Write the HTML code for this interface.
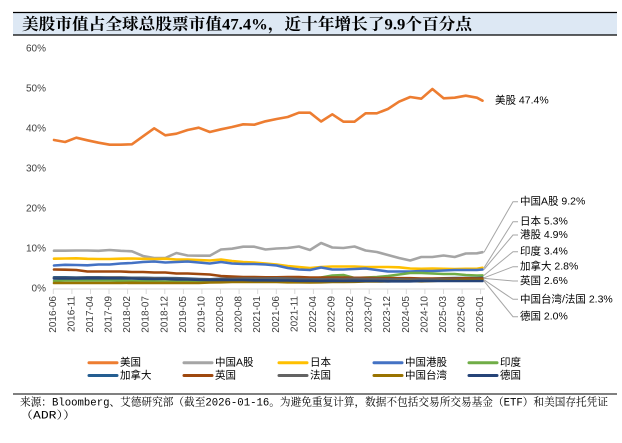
<!DOCTYPE html>
<html><head><meta charset="utf-8">
<style>
html,body{margin:0;padding:0;background:#fff;}
svg{display:block;}
.ax{font-family:"Liberation Sans","Noto Sans CJK SC",sans-serif;font-size:10px;fill:#404040;}
.lb{font-family:"Liberation Sans","Noto Sans CJK SC",sans-serif;font-size:10.5px;fill:#000;}
.s{fill:none;stroke-width:2.6;stroke-linejoin:round;stroke-linecap:round;}
</style></head>
<body>
<svg width="622" height="443" viewBox="0 0 622 443" xmlns="http://www.w3.org/2000/svg">
<!-- title bar -->
<rect x="13" y="12.5" width="604" height="22.5" fill="#dde8f4"/>
<line x1="13" y1="12.5" x2="617" y2="12.5" stroke="#000" stroke-width="1.2"/>
<line x1="13" y1="35" x2="617" y2="35" stroke="#000" stroke-width="1.2"/>
<text x="22" y="29.5" textLength="450" lengthAdjust="spacingAndGlyphs" style="font-family:'Liberation Serif','Noto Serif CJK SC',serif;font-weight:bold;font-size:16px;fill:#000;">美股市值占全球总股票市值47.4%，近十年增长了9.9个百分点</text>

<!-- y axis labels -->
<g class="ax" text-anchor="end" dominant-baseline="central">
<text x="46" y="49">60%</text>
<text x="46" y="89">50%</text>
<text x="46" y="129">40%</text>
<text x="46" y="169">30%</text>
<text x="46" y="209">20%</text>
<text x="46" y="249">10%</text>
<text x="46" y="289">0%</text>
</g>

<!-- x axis -->
<line x1="53" y1="289" x2="485" y2="289" stroke="#d9d9d9" stroke-width="1"/>
<g stroke="#d9d9d9" stroke-width="1">
<line x1="53.3" y1="289" x2="53.3" y2="294"/><line x1="71.9" y1="289" x2="71.9" y2="294"/><line x1="90.5" y1="289" x2="90.5" y2="294"/><line x1="109" y1="289" x2="109" y2="294"/><line x1="127.6" y1="289" x2="127.6" y2="294"/><line x1="146.2" y1="289" x2="146.2" y2="294"/><line x1="164.8" y1="289" x2="164.8" y2="294"/><line x1="183.4" y1="289" x2="183.4" y2="294"/><line x1="201.9" y1="289" x2="201.9" y2="294"/><line x1="220.5" y1="289" x2="220.5" y2="294"/><line x1="239.1" y1="289" x2="239.1" y2="294"/><line x1="257.7" y1="289" x2="257.7" y2="294"/><line x1="276.3" y1="289" x2="276.3" y2="294"/><line x1="294.8" y1="289" x2="294.8" y2="294"/><line x1="313.4" y1="289" x2="313.4" y2="294"/><line x1="332" y1="289" x2="332" y2="294"/><line x1="350.6" y1="289" x2="350.6" y2="294"/><line x1="369.2" y1="289" x2="369.2" y2="294"/><line x1="387.7" y1="289" x2="387.7" y2="294"/><line x1="406.3" y1="289" x2="406.3" y2="294"/><line x1="424.9" y1="289" x2="424.9" y2="294"/><line x1="443.5" y1="289" x2="443.5" y2="294"/><line x1="462.1" y1="289" x2="462.1" y2="294"/><line x1="480.6" y1="289" x2="480.6" y2="294"/>
</g>
<g class="ax" text-anchor="end" dominant-baseline="central">
<text transform="translate(53.3,296) rotate(-90)">2016-06</text>
<text transform="translate(71.9,296) rotate(-90)">2016-11</text>
<text transform="translate(90.5,296) rotate(-90)">2017-04</text>
<text transform="translate(109,296) rotate(-90)">2017-09</text>
<text transform="translate(127.6,296) rotate(-90)">2018-02</text>
<text transform="translate(146.2,296) rotate(-90)">2018-07</text>
<text transform="translate(164.8,296) rotate(-90)">2018-12</text>
<text transform="translate(183.4,296) rotate(-90)">2019-05</text>
<text transform="translate(201.9,296) rotate(-90)">2019-10</text>
<text transform="translate(220.5,296) rotate(-90)">2020-03</text>
<text transform="translate(239.1,296) rotate(-90)">2020-08</text>
<text transform="translate(257.7,296) rotate(-90)">2021-01</text>
<text transform="translate(276.3,296) rotate(-90)">2021-06</text>
<text transform="translate(294.8,296) rotate(-90)">2021-11</text>
<text transform="translate(313.4,296) rotate(-90)">2022-04</text>
<text transform="translate(332,296) rotate(-90)">2022-09</text>
<text transform="translate(350.6,296) rotate(-90)">2023-02</text>
<text transform="translate(369.2,296) rotate(-90)">2023-07</text>
<text transform="translate(387.7,296) rotate(-90)">2023-12</text>
<text transform="translate(406.3,296) rotate(-90)">2024-05</text>
<text transform="translate(424.9,296) rotate(-90)">2024-10</text>
<text transform="translate(443.5,296) rotate(-90)">2025-03</text>
<text transform="translate(462.1,296) rotate(-90)">2025-08</text>
<text transform="translate(480.6,296) rotate(-90)">2026-01</text>
</g>

<!-- series -->
<polyline class="s" stroke="#ed7d31" points="54,140 65.1,142 76.3,137.7 87.4,140.3 98.5,142.7 109.7,144.7 120.8,144.7 131.9,144.3 143,136.3 154.2,128.3 165.3,135.3 176.4,133.7 187.6,130 198.7,127.7 209.8,132 221,129.3 232.1,127 243.2,124.3 254.3,124.7 265.5,121.3 276.6,119 287.7,117 298.9,112.7 310,112.7 321.1,121.5 332.3,114.3 343.4,121.7 354.5,121.7 365.6,113.3 376.8,113.3 387.9,109 399,101.7 410.2,97 421.3,98.7 432.4,89 443.6,98.3 454.7,97.7 465.8,95.7 476.9,97.7 482.5,100.7"/>
<polyline class="s" stroke="#a5a5a5" points="54,250.7 65.1,250.7 76.3,250.5 87.4,250.5 98.5,250.8 109.7,250 120.8,250.8 131.9,251.3 143,256 154.2,258 165.3,258 176.4,253 187.6,255.5 198.7,255.7 209.8,255.7 221,249.5 232.1,248.7 243.2,246.7 254.3,246.7 265.5,249.5 276.6,248.5 287.7,248 298.9,246.5 310,250 321.1,243 332.3,247.5 343.4,248 354.5,246.5 365.6,250.5 376.8,252 387.9,255 399,258 410.2,260.5 421.3,257 432.4,257 443.6,255.5 454.7,257 465.8,253.5 476.9,253.3 482.5,252.2"/>
<polyline class="s" stroke="#ffc000" points="54,258.7 65.1,258.5 76.3,258.3 87.4,258.8 98.5,259 109.7,259 120.8,258.7 131.9,258.5 143,258.8 154.2,259 165.3,258.7 176.4,259.5 187.6,259.5 198.7,260 209.8,260.5 221,259.5 232.1,261 243.2,262 254.3,262.5 265.5,263.5 276.6,264.5 287.7,266 298.9,267 310,268 321.1,267 332.3,266.5 343.4,266.5 354.5,266.5 365.6,267 376.8,267 387.9,267 399,267.3 410.2,268.5 421.3,268.8 432.4,268.5 443.6,268.8 454.7,269 465.8,268.8 476.9,268.8 482.5,267.8"/>
<polyline class="s" stroke="#4472c4" points="54,265.5 65.1,264.8 76.3,265 87.4,265.3 98.5,264.5 109.7,264.5 120.8,263.5 131.9,263 143,262 154.2,261.5 165.3,262.5 176.4,262 187.6,261.5 198.7,262.5 209.8,263.5 221,262 232.1,263.5 243.2,264 254.3,264 265.5,264.5 276.6,265.5 287.7,268 298.9,269.5 310,270 321.1,267.5 332.3,269.5 343.4,269.5 354.5,269 365.6,268.5 376.8,270 387.9,271.5 399,271.5 410.2,271.5 421.3,271 432.4,271 443.6,270.5 454.7,270 465.8,270 476.9,270 482.5,269.5"/>
<polyline class="s" stroke="#70ad47" points="54,281 65.1,280.5 76.3,280.5 87.4,280.5 98.5,280.5 109.7,280.5 120.8,280.8 131.9,281 143,281 154.2,281.3 165.3,281.5 176.4,281.5 187.6,281.5 198.7,281.5 209.8,281.5 221,281 232.1,280.5 243.2,280 254.3,280 265.5,279.5 276.6,279.5 287.7,279.3 298.9,279 310,278.5 321.1,277.5 332.3,275.5 343.4,275 354.5,278 365.6,277.5 376.8,277 387.9,276 399,274.5 410.2,273 421.3,273 432.4,273.5 443.6,274 454.7,274 465.8,275 476.9,275.5 482.5,275.4"/>
<polyline class="s" stroke="#255e91" points="54,277.3 65.1,277.3 76.3,277.5 87.4,277.3 98.5,277.3 109.7,277.5 120.8,277.5 131.9,277.8 143,277.8 154.2,278 165.3,278 176.4,278.2 187.6,278.5 198.7,279 209.8,279.3 221,278.8 232.1,278.8 243.2,279 254.3,279 265.5,279 276.6,278.5 287.7,278.5 298.9,278.5 310,279 321.1,279 332.3,279 343.4,279.3 354.5,279 365.6,279 376.8,279 387.9,279.3 399,279.5 410.2,279.3 421.3,279 432.4,278.8 443.6,278.3 454.7,278 465.8,278 476.9,278 482.5,277.8"/>
<polyline class="s" stroke="#9e480e" points="54,269.5 65.1,269.7 76.3,270 87.4,271.5 98.5,271.5 109.7,271.5 120.8,271.5 131.9,272 143,272 154.2,272.5 165.3,272.5 176.4,273.5 187.6,273.5 198.7,274 209.8,274.5 221,276 232.1,276.5 243.2,277 254.3,277 265.5,277.3 276.6,277.3 287.7,277 298.9,277 310,277.5 321.1,277.5 332.3,277.5 343.4,277.5 354.5,277.8 365.6,277.8 376.8,278 387.9,278 399,278.2 410.2,278.2 421.3,278.5 432.4,278.5 443.6,278.5 454.7,278.5 465.8,278.3 476.9,278.5 482.5,278.4"/>
<polyline class="s" stroke="#636363" points="54,278 65.1,278 76.3,278 87.4,277.8 98.5,277.8 109.7,277.5 120.8,277.5 131.9,278 143,278 154.2,278.3 165.3,278.5 176.4,278.8 187.6,279 198.7,279.3 209.8,279.5 221,279 232.1,278.8 243.2,278.5 254.3,278.5 265.5,278.5 276.6,278.3 287.7,278.5 298.9,279 310,279.3 321.1,279.3 332.3,279 343.4,279 354.5,278.8 365.6,279 376.8,279 387.9,279.3 399,279.3 410.2,279.5 421.3,279.5 432.4,279.5 443.6,279.5 454.7,279.8 465.8,279.8 476.9,279.8 482.5,279.8"/>
<polyline class="s" stroke="#997300" points="54,283 65.1,283 76.3,283 87.4,283 98.5,283 109.7,283 120.8,283 131.9,282.8 143,283 154.2,283 165.3,283 176.4,283 187.6,283 198.7,283 209.8,282.5 221,282.3 232.1,282 243.2,282 254.3,282 265.5,281.8 276.6,282 287.7,282.3 298.9,282.3 310,282.5 321.1,282.3 332.3,282 343.4,282 354.5,281.8 365.6,281.5 376.8,281.5 387.9,281.3 399,281 410.2,281 421.3,281.3 432.4,281 443.6,280.5 454.7,280.3 465.8,280 476.9,280 482.5,279.8"/>
<polyline class="s" stroke="#264478" points="54,278.5 65.1,278.5 76.3,278.5 87.4,278.3 98.5,278.3 109.7,278.3 120.8,278.3 131.9,278.5 143,278.8 154.2,279 165.3,279 176.4,279.5 187.6,279.5 198.7,279.8 209.8,280 221,279.8 232.1,280 243.2,280 254.3,280.3 265.5,280.3 276.6,280.5 287.7,280.5 298.9,280.8 310,280.8 321.1,281 332.3,280.8 343.4,281 354.5,280.8 365.6,281 376.8,281 387.9,281.3 399,281.3 410.2,281.3 421.3,281 432.4,281 443.6,281 454.7,281 465.8,281 476.9,281 482.5,281"/>

<!-- leader lines -->
<g fill="none" stroke="#a6a6a6" stroke-width="1">
<polyline points="484,252.2 513,201.7 518,201.7"/>
<polyline points="484,267.8 513,221.7 518,221.7"/>
<polyline points="484,269.5 513,235 518,235"/>
<polyline points="484,275.4 513,251.7 518,251.7"/>
<polyline points="484,277.8 513,266.7 518,266.7"/>
<polyline points="484,278.4 513,281 518,281"/>
<polyline points="484,279.8 513,299.3 518,299.3"/>
<polyline points="484,281 513,316.7 518,316.7"/>
</g>
<g class="lb" dominant-baseline="central">
<text x="495" y="100.7">美股 47.4%</text>
<text x="520" y="201.7">中国A股 9.2%</text>
<text x="520" y="221.7">日本 5.3%</text>
<text x="520" y="235">港股 4.9%</text>
<text x="520" y="251.7">印度 3.4%</text>
<text x="520" y="266.7">加拿大 2.8%</text>
<text x="520" y="281">英国 2.6%</text>
<text x="520" y="299.3">中国台湾/法国 2.3%</text>
<text x="520" y="316.7">德国 2.0%</text>
</g>

<!-- legend -->
<g stroke-width="3" stroke-linecap="round">
<line x1="89" y1="362.7" x2="117" y2="362.7" stroke="#ed7d31"/>
<line x1="184" y1="362.7" x2="212" y2="362.7" stroke="#a5a5a5"/>
<line x1="279" y1="362.7" x2="307" y2="362.7" stroke="#ffc000"/>
<line x1="374" y1="362.7" x2="402" y2="362.7" stroke="#4472c4"/>
<line x1="469" y1="362.7" x2="497" y2="362.7" stroke="#70ad47"/>
<line x1="89" y1="375.5" x2="117" y2="375.5" stroke="#255e91"/>
<line x1="184" y1="375.5" x2="212" y2="375.5" stroke="#9e480e"/>
<line x1="279" y1="375.5" x2="307" y2="375.5" stroke="#636363"/>
<line x1="374" y1="375.5" x2="402" y2="375.5" stroke="#997300"/>
<line x1="469" y1="375.5" x2="497" y2="375.5" stroke="#264478"/>
</g>
<g class="lb" dominant-baseline="central">
<text x="120" y="362.7">美国</text>
<text x="215" y="362.7">中国A股</text>
<text x="310" y="362.7">日本</text>
<text x="405" y="362.7">中国港股</text>
<text x="500" y="362.7">印度</text>
<text x="120" y="375.5">加拿大</text>
<text x="215" y="375.5">英国</text>
<text x="310" y="375.5">法国</text>
<text x="405" y="375.5">中国台湾</text>
<text x="500" y="375.5">德国</text>
</g>

<!-- footer -->
<line x1="13" y1="394" x2="617" y2="394" stroke="#000" stroke-width="1"/>
<g style="font-family:'Liberation Mono','Noto Serif CJK SC',monospace;font-size:11px;fill:#000;">
<text x="20" y="405.5" textLength="588" lengthAdjust="spacingAndGlyphs">来源：Bloomberg、艾德研究部（截至2026-01-16。为避免重复计算，数据不包括交易所交易基金（ETF）和美国存托凭证</text>
<text x="20" y="418.5" textLength="56" lengthAdjust="spacingAndGlyphs">（ADR））</text>
</g>
</svg>
</body></html>
